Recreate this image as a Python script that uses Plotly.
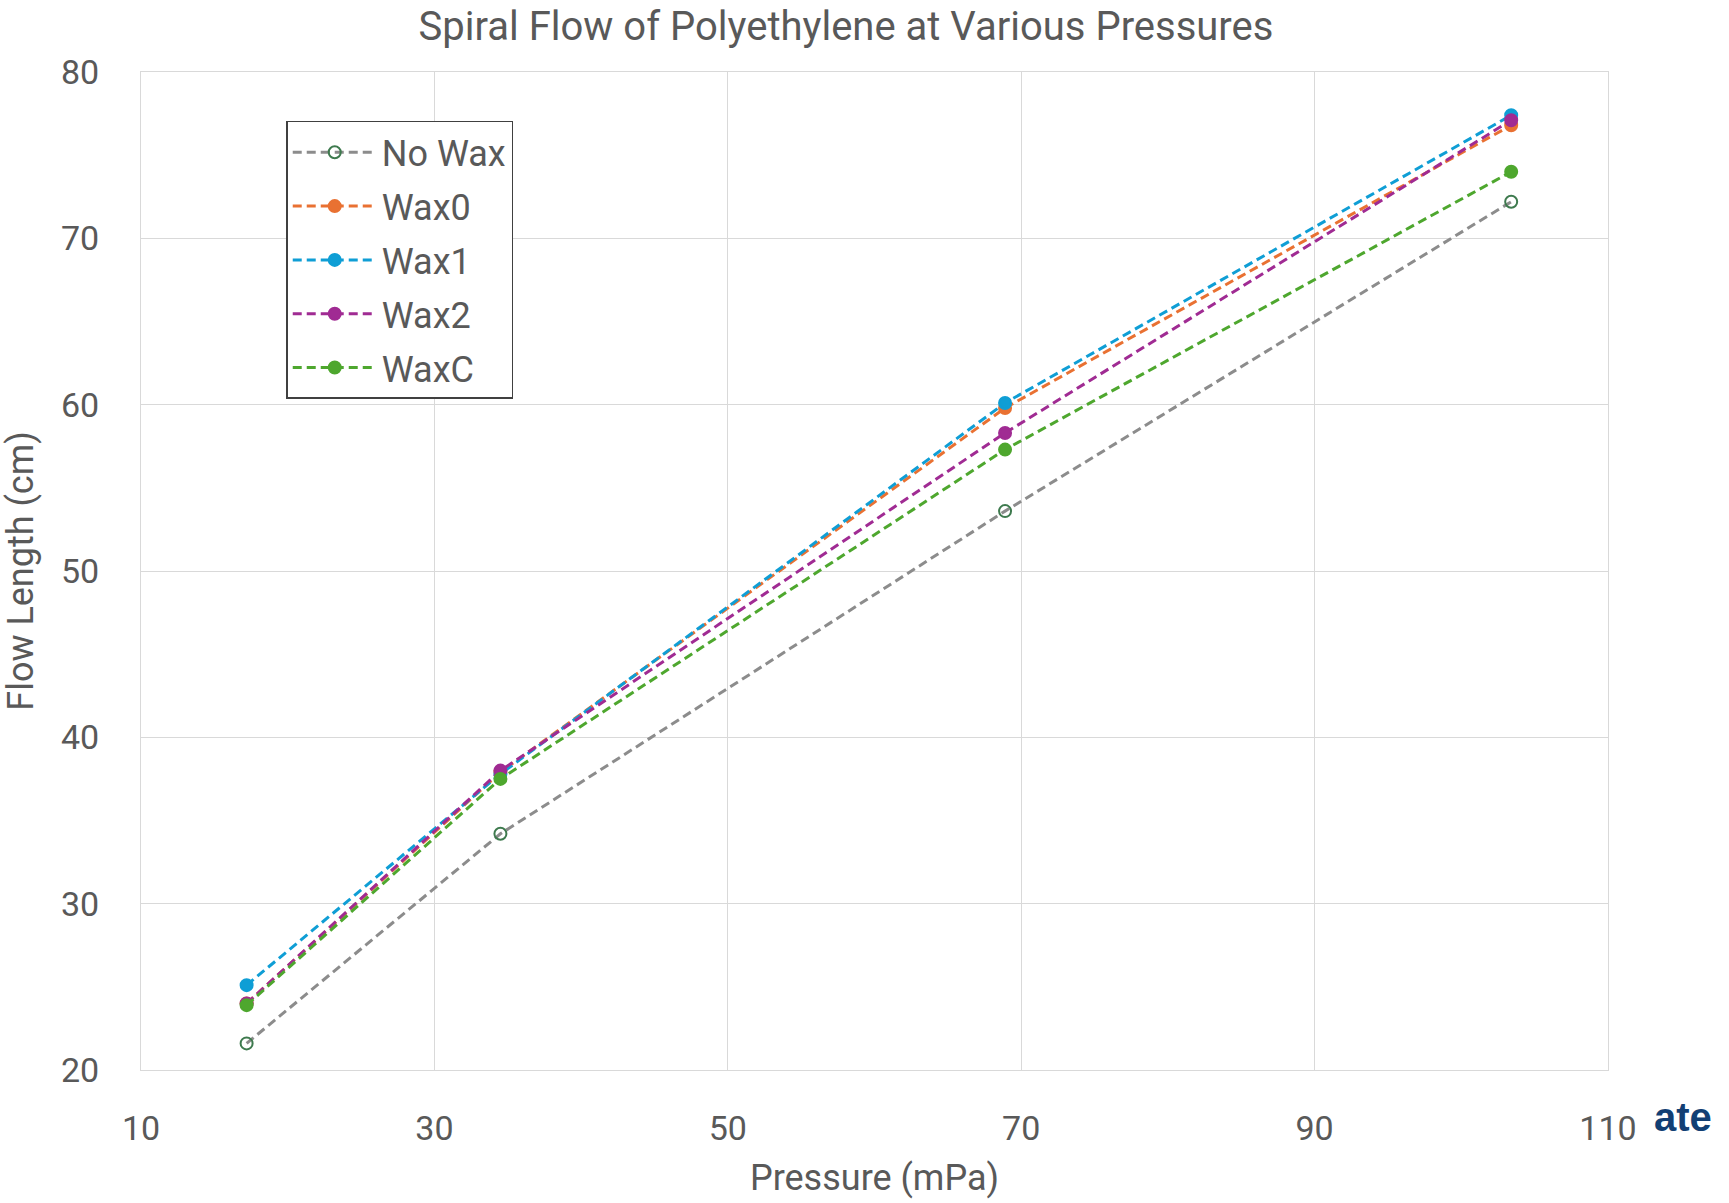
import plotly.graph_objects as go

pressure = [17.2, 34.5, 68.9, 103.4]
series_names = ["No Wax", "Wax0", "Wax1", "Wax2", "WaxC"]
no_wax = [21.6, 34.2, 53.6, 72.2]
wax0 = [24.0, 37.9, 59.8, 76.8]
wax1 = [25.1, 37.8, 60.1, 77.4]
wax2 = [24.0, 38.0, 58.3, 77.1]
waxc = [23.9, 37.5, 57.3, 74.0]
values = [no_wax, wax0, wax1, wax2, waxc]

line_colors = ["#8C8C8C", "#E97132", "#0F9ED5", "#A02B93", "#4EA72E"]
marker_fill = ["rgba(255,255,255,0)", "#E97132", "#0F9ED5", "#A02B93", "#4EA72E"]
marker_line = ["#3E7A4E", "#E97132", "#0F9ED5", "#A02B93", "#4EA72E"]

FONT = "Roboto, Liberation Sans, sans-serif"
GREY = "#595959"

fig = go.Figure()
for name, ys, lc, mf, ml in zip(series_names, values, line_colors, marker_fill, marker_line):
    fig.add_trace(go.Scatter(
        x=pressure, y=ys, name=name, mode="lines+markers", legendgroup=name,
        line=dict(color=lc, width=3, dash="9px,5px"),
        marker=dict(size=12, color=mf, line=dict(color=ml, width=2), symbol="circle"),
    ))

fig.update_layout(
    width=1729, height=1203,
    margin=dict(l=138, r=121, t=72, b=131),
    paper_bgcolor="white", plot_bgcolor="white",
    font=dict(family=FONT, color=GREY, size=36),
    title=dict(text="Spiral Flow of Polyethylene at Various Pressures",
               x=846 / 1729, xanchor="center", y=1 - 26 / 1203, yanchor="middle",
               font=dict(size=40, color=GREY, family=FONT)),
    showlegend=True,
    legend=dict(x=0.099, y=0.951, xanchor="left", yanchor="top",
                bgcolor="white", bordercolor="#404040", borderwidth=1.5,
                font=dict(size=36, color=GREY, family=FONT),
                itemwidth=84, tracegroupgap=4),
)
fig.update_xaxes(
    range=[10, 110], tickvals=[10, 30, 50, 70, 90, 110],
    showgrid=True, gridcolor="#D9D9D9", gridwidth=1,
    showline=True, linecolor="#D9D9D9", linewidth=1, mirror=True,
    zeroline=False, ticks="", ticklabelstandoff=28,
    tickfont=dict(size=34, color=GREY),
    title=dict(text="Pressure (mPa)", font=dict(size=36, color=GREY), standoff=18),
)
fig.update_yaxes(
    range=[20, 80], tickvals=[20, 30, 40, 50, 60, 70, 80],
    showgrid=True, gridcolor="#D9D9D9", gridwidth=1,
    showline=True, linecolor="#D9D9D9", linewidth=1, mirror=True,
    zeroline=False, ticks="", ticklabelstandoff=34,
    tickfont=dict(size=34, color=GREY),
    title=dict(text="Flow Length (cm)", font=dict(size=36, color=GREY), standoff=24),
)
fig.add_annotation(
    text="<b>ate</b>", xref="paper", yref="paper",
    x=(1652 - 138) / 1470, y=(1072 - 1119) / 1000,
    xanchor="left", yanchor="middle", showarrow=False,
    font=dict(size=40, color="#123F74", family="Liberation Sans, Arial, sans-serif"),
)

fig.write_html("out.html")
